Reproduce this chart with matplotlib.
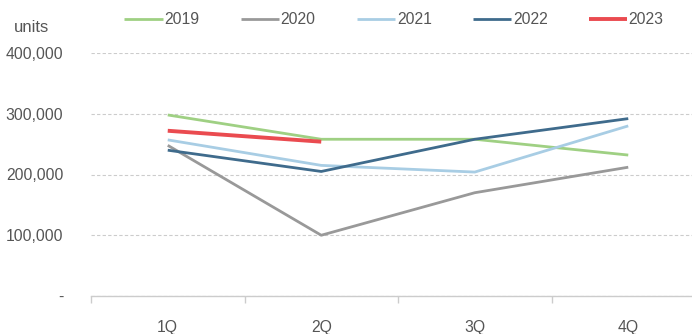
import matplotlib
matplotlib.use("Agg")
import matplotlib.pyplot as plt
from matplotlib.ticker import FuncFormatter, FixedLocator

quarters = ["1Q", "2Q", "3Q", "4Q"]
years = ["2019", "2020", "2021", "2022", "2023"]
units_2019 = [298000, 258000, 258000, 232000]
units_2020 = [248000, 100000, 170000, 212000]
units_2021 = [257000, 215000, 204000, 280000]
units_2022 = [240000, 205000, 258000, 292000]
units_2023 = [272000, 254000]
series = [units_2019, units_2020, units_2021, units_2022, units_2023]
colors = ["#9fd083", "#999999", "#a8cde4", "#3f6b8c", "#ea4b50"]
widths = [2.0, 2.0, 2.0, 2.0, 2.8]

plt.rcParams["font.family"] = ["Liberation Sans", "DejaVu Sans"]
FS = 11.3
TXT = "#555555"

fig = plt.figure(figsize=(6.92, 3.34), dpi=100)
W, H = 692, 334
left, right, top, bottom = 91, 705, 53, 296
ax = fig.add_axes([left / W, 1 - bottom / H, (right - left) / W, (bottom - top) / H])

x = list(range(len(quarters)))
for vals, yr, c, lw in zip(series, years, colors, widths):
    ax.plot(x[:len(vals)], vals, color=c, lw=lw, label=yr, solid_capstyle="butt")

ax.set_xlim(-0.5, 3.5)
ax.set_ylim(0, 400000)
ax.set_yticks([0, 100000, 200000, 300000, 400000])
ax.yaxis.set_major_formatter(FuncFormatter(lambda v, p: "-" if v == 0 else f"{int(v):,}"))
ax.grid(axis="y", color="#cccccc", linestyle=(0, (3, 2)), lw=0.8)
ax.set_axisbelow(True)

ax.set_xticks(x)
ax.set_xticklabels(quarters)
ax.xaxis.set_minor_locator(FixedLocator([-0.5, 0.5, 1.5, 2.5, 3.5]))
ax.tick_params(axis="x", which="major", length=0, pad=17, labelsize=FS, labelcolor=TXT)
ax.tick_params(axis="x", which="minor", length=5, color="#cccccc", width=1)
ax.tick_params(axis="y", length=0, pad=20, labelsize=FS, labelcolor=TXT)

for s in ["left", "right", "top"]:
    ax.spines[s].set_visible(False)
ax.spines["bottom"].set_color("#cccccc")
ax.spines["bottom"].set_linewidth(1)

fig.text(14 / W, 1 - 28 / H, "units", fontsize=FS + 0.7, color=TXT, va="center", ha="left")

fig.legend(loc="center", bbox_to_anchor=(394 / W, 1 - 20 / H), ncol=5, frameon=False,
           fontsize=FS, handlelength=2.45, handletextpad=0.1, columnspacing=2.62,
           labelcolor=TXT)

fig.savefig("out.png", dpi=100)
